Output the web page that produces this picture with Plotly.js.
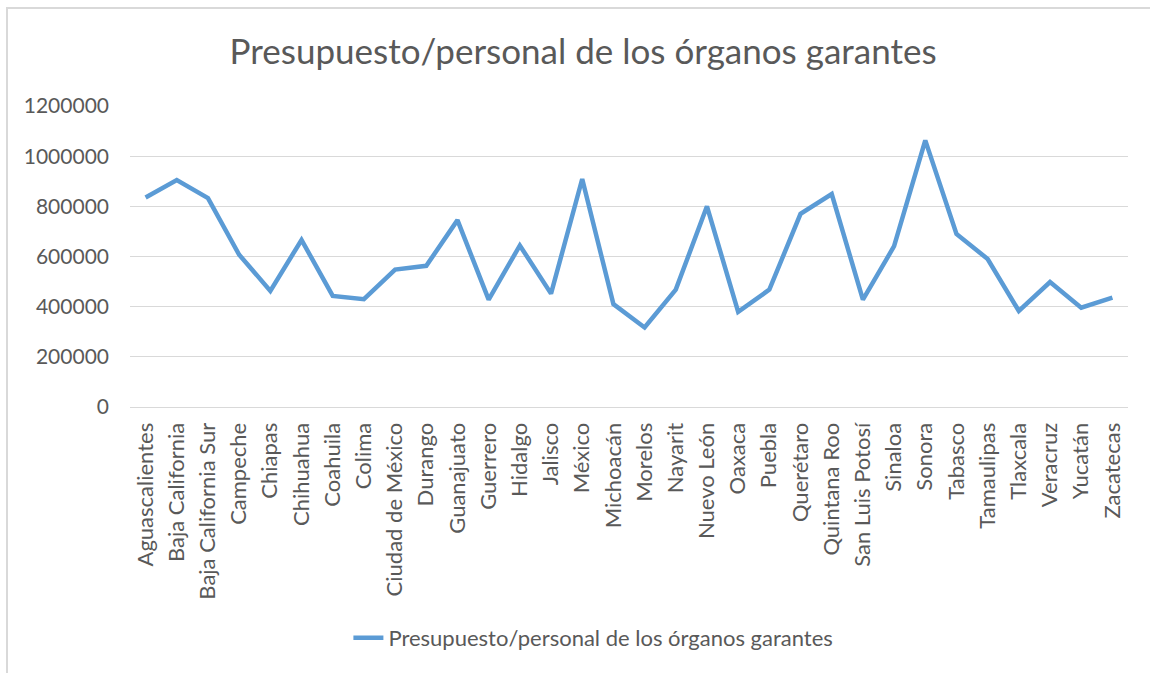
<!DOCTYPE html>
<html>
<head>
<meta charset="utf-8">
<script src="https://cdn.plot.ly/plotly-3.0.1.min.js"></script>
<style>
  body { margin: 0; background: #fff; }
  #chart { width: 1150px; height: 673px; }
  #frame { position: absolute; left: 6px; top: 7px; width: 1160px; height: 680px;
           border-top: 2px solid #d9d9d9; border-left: 2px solid #d9d9d9; pointer-events: none; }
</style>
</head>
<body>
<div id="chart"></div>
<div id="frame"></div>
<script>
const estados = [
  'Aguascalientes', 'Baja California', 'Baja California Sur', 'Campeche', 'Chiapas',
  'Chihuahua', 'Coahuila', 'Colima', 'Ciudad de México', 'Durango', 'Guanajuato',
  'Guerrero', 'Hidalgo', 'Jalisco', 'México', 'Michoacán', 'Morelos', 'Nayarit',
  'Nuevo León', 'Oaxaca', 'Puebla', 'Querétaro', 'Quintana Roo', 'San Luis Potosí',
  'Sinaloa', 'Sonora', 'Tabasco', 'Tamaulipas', 'Tlaxcala', 'Veracruz', 'Yucatán',
  'Zacatecas'
];

const presupuestoPersonal = [
  835000, 905000, 833000, 607000, 463000,
  666000, 443000, 430000, 548000, 563000, 745000,
  428000, 644000, 452000, 909000, 410000, 317000, 468000,
  800000, 379000, 468000, 770000, 849000, 428000,
  641000, 1063000, 690000, 590000, 383000, 498000, 396000,
  436000
];

const serieNombre = 'Presupuesto/personal de los órganos garantes';

const trace = {
  x: estados,
  y: presupuestoPersonal,
  type: 'scatter',
  mode: 'lines',
  name: serieNombre,
  line: { color: '#5b9bd5', width: 4.5, shape: 'linear' }
};

const txt = '#595959';

const layout = {
  width: 1150,
  height: 673,
  paper_bgcolor: '#ffffff',
  plot_bgcolor: '#ffffff',
  font: { family: 'Lato, "Open Sans", sans-serif', color: txt, size: 21 },
  margin: { l: 130, r: 22, t: 106, b: 266 },
  title: {
    text: serieNombre,
    font: { size: 35, color: txt, family: 'Lato, "Open Sans", sans-serif' },
    xref: 'container', x: 0.507, xanchor: 'center',
    yref: 'container', y: 1 - 52 / 673, yanchor: 'middle'
  },
  showlegend: true,
  legend: {
    orientation: 'h',
    xref: 'container', x: 0.516, xanchor: 'center',
    yref: 'container', y: 1 - 638 / 673, yanchor: 'middle',
    font: { size: 22, color: txt }
  },
  xaxis: {
    type: 'category',
    range: [-0.5, estados.length - 0.5],
    tickangle: -90,
    showgrid: false,
    showline: true,
    linecolor: '#d9d9d9',
    linewidth: 1,
    ticks: '',
    ticklabelstandoff: 6,
    tickfont: { size: 22, color: txt }
  },
  yaxis: {
    range: [0, 1200000],
    dtick: 200000,
    tickformat: 'd',
    showgrid: true,
    gridcolor: '#d9d9d9',
    gridwidth: 1,
    zeroline: true,
    zerolinecolor: '#d9d9d9',
    zerolinewidth: 1,
    ticks: '',
    ticklabelstandoff: 20,
    tickfont: { size: 21, color: txt }
  }
};

Plotly.newPlot('chart', [trace], layout, { displayModeBar: false, staticPlot: true });
</script>
</body>
</html>
